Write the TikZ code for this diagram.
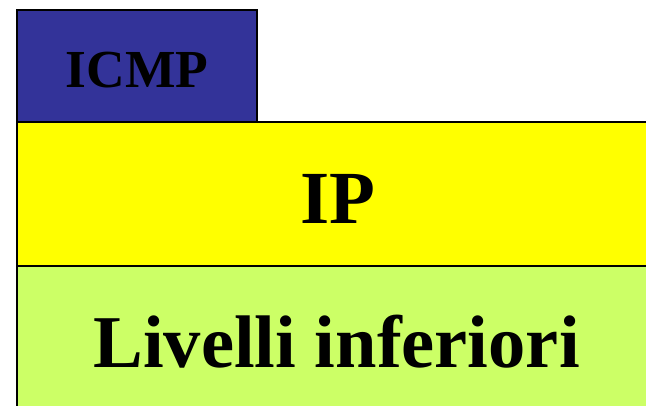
\documentclass[tikz,border=0pt]{standalone}
\usepackage{fontspec}
\setmainfont{Liberation Serif}
\definecolor{icmpblue}{RGB}{51,51,153}
\definecolor{ipyellow}{RGB}{255,255,0}
\definecolor{lowgreen}{RGB}{204,255,102}
\tikzset{x=1pt,y=-1pt,layer/.style={draw=black,line width=2.4pt,anchor=north west,inner sep=0pt,outer sep=0pt},lab/.style={inner sep=0pt,text=black,anchor=base}}
\begin{document}
\begin{tikzpicture}
\useasboundingbox (0,0) rectangle (646,405);
\begin{scope}
\clip (0,0) rectangle (646,405);
\node[layer,fill=lowgreen,minimum width=640pt,minimum height=150pt] (low) at (17,266) {};
\node[layer,fill=ipyellow,minimum width=640pt,minimum height=144pt] (ip) at (17,122) {};
\node[layer,fill=icmpblue,minimum width=240pt,minimum height=112pt] (icmp) at (17,10) {};
\end{scope}
\node[lab,font=\bfseries\fontsize{53.5}{53.5}\selectfont] (t1) at (137,87.3) {ICMP};
\node[lab,font=\bfseries\fontsize{75}{75}\selectfont] (t2) at (337.5,223) {IP};
\node[lab,font=\bfseries\fontsize{74.5}{74.5}\selectfont] (t3) at (336.5,367.7) {Livelli inferiori};
\end{tikzpicture}
\end{document}
